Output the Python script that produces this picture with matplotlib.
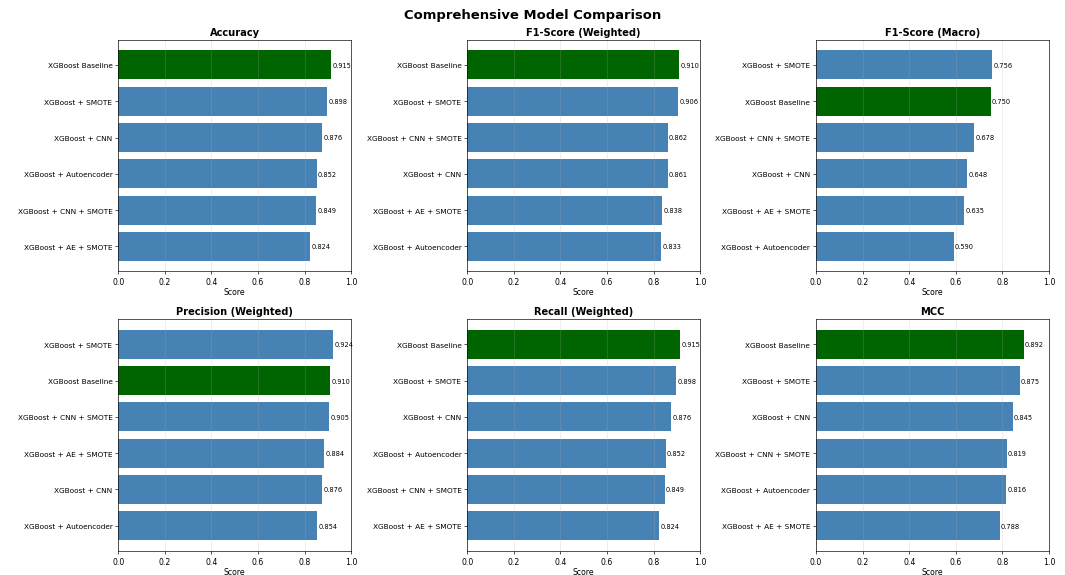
import matplotlib
matplotlib.use("Agg")
import matplotlib.pyplot as plt

# metric panels, each sorted best-first
acc_models = ["XGBoost Baseline", "XGBoost + SMOTE", "XGBoost + CNN",
              "XGBoost + Autoencoder", "XGBoost + CNN + SMOTE", "XGBoost + AE + SMOTE"]
acc_vals = [0.915, 0.898, 0.876, 0.852, 0.849, 0.824]

f1w_models = ["XGBoost Baseline", "XGBoost + SMOTE", "XGBoost + CNN + SMOTE",
              "XGBoost + CNN", "XGBoost + AE + SMOTE", "XGBoost + Autoencoder"]
f1w_vals = [0.910, 0.906, 0.862, 0.861, 0.838, 0.833]

f1m_models = ["XGBoost + SMOTE", "XGBoost Baseline", "XGBoost + CNN + SMOTE",
              "XGBoost + CNN", "XGBoost + AE + SMOTE", "XGBoost + Autoencoder"]
f1m_vals = [0.756, 0.750, 0.678, 0.648, 0.635, 0.590]

prec_models = ["XGBoost + SMOTE", "XGBoost Baseline", "XGBoost + CNN + SMOTE",
               "XGBoost + AE + SMOTE", "XGBoost + CNN", "XGBoost + Autoencoder"]
prec_vals = [0.924, 0.910, 0.905, 0.884, 0.876, 0.854]

rec_models = ["XGBoost Baseline", "XGBoost + SMOTE", "XGBoost + CNN",
              "XGBoost + Autoencoder", "XGBoost + CNN + SMOTE", "XGBoost + AE + SMOTE"]
rec_vals = [0.915, 0.898, 0.876, 0.852, 0.849, 0.824]

mcc_models = ["XGBoost Baseline", "XGBoost + SMOTE", "XGBoost + CNN",
              "XGBoost + CNN + SMOTE", "XGBoost + Autoencoder", "XGBoost + AE + SMOTE"]
mcc_vals = [0.892, 0.875, 0.845, 0.819, 0.816, 0.788]

panels = [
    ("Accuracy", acc_models, acc_vals),
    ("F1-Score (Weighted)", f1w_models, f1w_vals),
    ("F1-Score (Macro)", f1m_models, f1m_vals),
    ("Precision (Weighted)", prec_models, prec_vals),
    ("Recall (Weighted)", rec_models, rec_vals),
    ("MCC", mcc_models, mcc_vals),
]

fig, axes = plt.subplots(2, 3, figsize=(18, 9.735), dpi=1065 / 18)
fig.suptitle("Comprehensive Model Comparison", fontsize=16, fontweight="bold", y=0.985)

for ax, (title, models, vals) in zip(axes.flat, panels):
    colors = ["darkgreen" if m == "XGBoost Baseline" else "steelblue" for m in models]
    ypos = list(range(len(models)))
    ax.barh(ypos, vals, color=colors)
    ax.set_yticks(ypos)
    ax.set_yticklabels(models, fontsize=9)
    ax.invert_yaxis()
    ax.set_xlim(0, 1)
    ax.tick_params(axis="x", labelsize=9.5)
    ax.set_xlabel("Score", fontsize=9.5, labelpad=1.5)
    ax.set_title(title, fontsize=12, fontweight="bold")
    ax.grid(axis="x", alpha=0.3)
    for y, v in zip(ypos, vals):
        ax.text(v + 0.005, y, f"{v:.3f}", va="center", fontsize=8)

fig.subplots_adjust(left=0.111, right=0.985, top=0.929, bottom=0.042,
                    wspace=0.498, hspace=0.207)
fig.savefig("out.png")
